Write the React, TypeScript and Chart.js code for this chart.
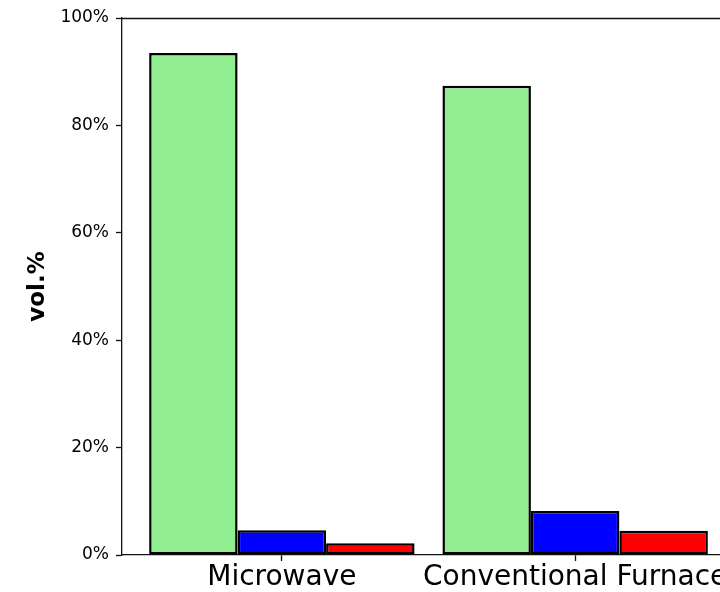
import React, { useEffect, useRef } from "react";
import { Chart, registerables } from "chart.js";

Chart.register(...registerables);

const categories = ["Microwave", "Conventional Furnace"];
const seriesGreen = [93.5, 87.4];
const seriesBlue = [4.6, 8.2];
const seriesRed = [2.2, 4.5];
const yTicks = [0, 20, 40, 60, 80, 100];

const topSpine = {
  id: "topSpine",
  afterDraw(chart: any) {
    const { ctx, chartArea } = chart;
    ctx.save();
    ctx.strokeStyle = "#111";
    ctx.lineWidth = 1.3;
    ctx.beginPath();
    ctx.moveTo(chartArea.left, chartArea.top + 0.5);
    ctx.lineTo(chartArea.right, chartArea.top + 0.5);
    ctx.stroke();
    ctx.restore();
  },
};

export default function App() {
  const ref = useRef<HTMLCanvasElement | null>(null);

  useEffect(() => {
    if (!ref.current) return;
    const mk = (vals: number[]) => vals.map((v, i) => ({ x: i, y: v }));
    const ds = (label: string, vals: number[], color: string) => ({
      label,
      data: mk(vals),
      backgroundColor: color,
      borderColor: "#000",
      borderWidth: 2.5,
      borderSkipped: false,
      categoryPercentage: 0.905,
      barPercentage: 1,
    });
    const chart = new Chart(ref.current, {
      type: "bar",
      data: {
        datasets: [
          ds("a", seriesGreen, "#90EE90"),
          ds("b", seriesBlue, "#0000FF"),
          ds("c", seriesRed, "#FF0000"),
        ],
      },
      plugins: [topSpine],
      options: {
        animation: false,
        responsive: true,
        maintainAspectRatio: false,
        layout: { padding: { left: 0, right: 65, top: 18, bottom: 0 } },
        plugins: { legend: { display: false }, tooltip: { enabled: false }, title: { display: false } },
        scales: {
          x: {
            type: "linear",
            offset: false,
            min: -0.545,
            max: 1.545,
            afterBuildTicks: (scale: any) => {
              scale.ticks = categories.map((_, i) => ({ value: i }));
            },
            afterFit: (scale: any) => {
              scale.height = 37;
            },
            ticks: {
              callback: (v: any) => categories[v as number] ?? "",
              font: { family: "DejaVu Sans", size: 28 },
              color: "#000",
              padding: 0,
              maxRotation: 0,
              autoSkip: false,
            },
            grid: {
              offset: false,
              drawOnChartArea: false,
              drawTicks: true,
              tickLength: 6,
              tickColor: "#111",
              tickWidth: 1.3,
            },
            border: { display: true, color: "#111", width: 1.3 },
          },
          y: {
            type: "linear",
            min: 0,
            max: 100,
            afterBuildTicks: (scale: any) => {
              scale.ticks = yTicks.map((v) => ({ value: v }));
            },
            afterFit: (scale: any) => {
              scale.width = 122;
            },
            ticks: {
              callback: (v: any) => v + "%",
              font: { family: "DejaVu Sans", size: 17 },
              color: "#000",
              padding: 7,
            },
            grid: {
              drawOnChartArea: false,
              drawTicks: true,
              tickLength: 6,
              tickColor: "#111",
              tickWidth: 1.3,
            },
            border: { display: true, color: "#111", width: 1.3 },
            title: {
              display: true,
              text: "vol.%",
              font: { family: "DejaVu Sans", size: 23, weight: "bold" },
              color: "#000",
              padding: { top: 24, bottom: 0 },
            },
          },
        },
      },
    });
    return () => chart.destroy();
  }, []);

  return (
    <div
      style={{
        position: "fixed",
        left: 0,
        top: 0,
        width: 720,
        height: 592,
        overflow: "hidden",
        background: "#fff",
      }}
    >
      <div style={{ position: "absolute", left: 0, top: 0, width: 800, height: 592 }}>
        <canvas ref={ref} />
      </div>
    </div>
  );
}
